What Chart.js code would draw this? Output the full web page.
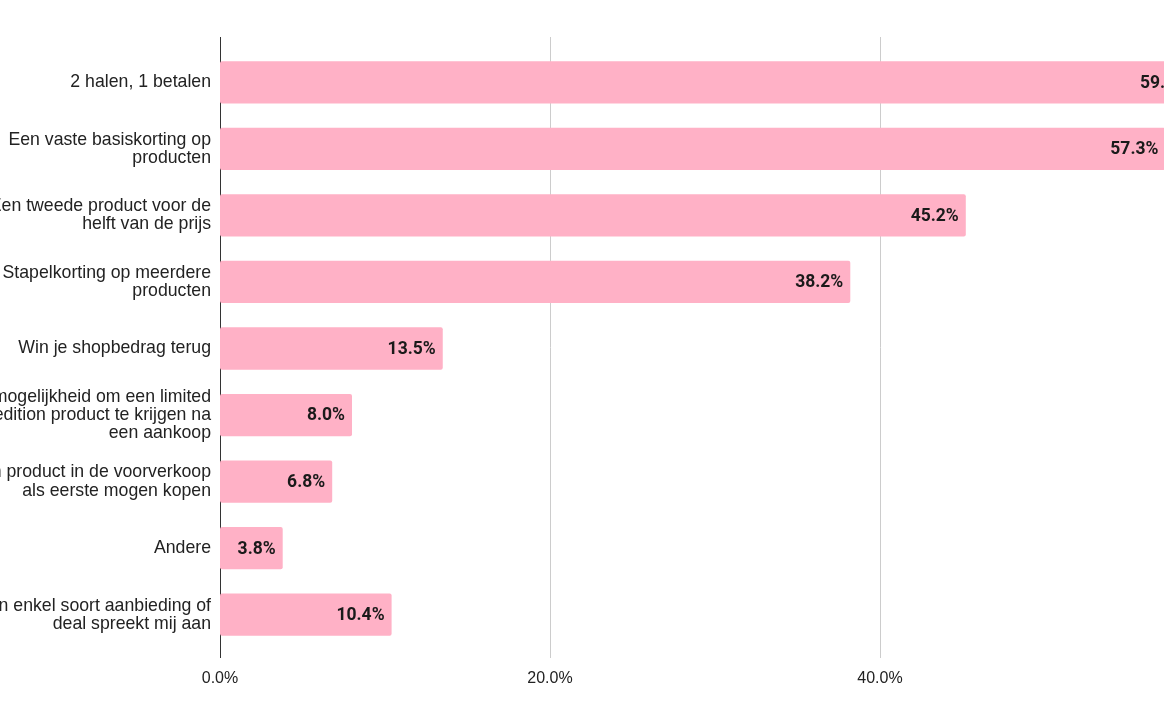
<!DOCTYPE html>
<html>
<head>
<meta charset="utf-8">
<script src="https://cdn.jsdelivr.net/npm/chart.js@4/dist/chart.umd.min.js"></script>
<style>
  html, body { margin: 0; padding: 0; background: #fff; overflow: hidden; width: 1164px; height: 723px; }
  #wrap { position: absolute; left: -60px; top: 0; width: 1324px; height: 723px; }
</style>
</head>
<body>
<div id="wrap"><canvas id="c" width="1324" height="723"></canvas></div>
<script>
const categories = [
  ["2 halen, 1 betalen"],
  ["Een vaste basiskorting op", "producten"],
  ["Een tweede product voor de", "helft van de prijs"],
  ["Stapelkorting op meerdere", "producten"],
  ["Win je shopbedrag terug"],
  ["De mogelijkheid om een limited", "edition product te krijgen na", "een aankoop"],
  ["Een product in de voorverkoop", "als eerste mogen kopen"],
  ["Andere"],
  ["Geen enkel soort aanbieding of", "deal spreekt mij aan"]
];
const values = [59.1, 57.3, 45.2, 38.2, 13.5, 8.0, 6.8, 3.8, 10.4];
const tickValues = [0, 20, 40, 60];

const gridPlugin = {
  id: 'extGrid',
  beforeDatasetsDraw(chart) {
    const xs = chart.scales.x, area = chart.chartArea, ctx = chart.ctx;
    ctx.save();
    xs.ticks.forEach(t => {
      const px = Math.round(xs.getPixelForValue(t.value)) + 0.5;
      ctx.beginPath();
      ctx.strokeStyle = t.value === 0 ? '#333333' : '#cccccc';
      ctx.lineWidth = 1;
      ctx.moveTo(px, area.top - 12);
      ctx.lineTo(px, area.bottom + 10);
      ctx.stroke();
    });
    ctx.restore();
  }
};

const labelPlugin = {
  id: 'barLabels',
  afterDatasetsDraw(chart) {
    const ctx = chart.ctx;
    const meta = chart.getDatasetMeta(0);
    ctx.save();
    ctx.font = 'bold 17.5px Roboto, "Liberation Sans", sans-serif';
    ctx.fillStyle = '#1a1a1a';
    ctx.textAlign = 'right';
    ctx.textBaseline = 'middle';
    meta.data.forEach((bar, i) => {
      ctx.fillText(values[i].toFixed(1) + '%', bar.x - 7, bar.y + 1);
    });
    ctx.restore();
  }
};

new Chart(document.getElementById('c'), {
  type: 'bar',
  data: {
    labels: categories,
    datasets: [{
      data: values,
      backgroundColor: '#ffb1c6',
      borderRadius: 2,
      borderSkipped: false,
      barPercentage: 0.635,
      categoryPercentage: 1
    }]
  },
  options: {
    indexAxis: 'y',
    responsive: false,
    animation: false,
    devicePixelRatio: 1,
    layout: { padding: { top: 49, right: 54, bottom: 0, left: 0 } },
    plugins: { legend: { display: false }, tooltip: { enabled: false } },
    scales: {
      x: {
        min: 0, max: 60,
        afterBuildTicks(scale) { scale.ticks = tickValues.map(v => ({ value: v })); },
        afterFit(scale) { scale.height = 75; },
        grid: { display: false, drawTicks: false },
        border: { display: false },
        ticks: {
          padding: 21,
          color: '#222222',
          font: { family: '"Liberation Sans", Arial, sans-serif', size: 16 },
          callback: v => Number(v).toFixed(1) + '%'
        }
      },
      y: {
        afterFit(scale) { scale.width = 280; },
        grid: { display: false, drawTicks: false },
        border: { display: false },
        ticks: {
          padding: 9,
          color: '#222222',
          font: { family: '"Liberation Sans", Arial, sans-serif', size: 17.7, lineHeight: 1.02 }
        }
      }
    }
  },
  plugins: [gridPlugin, labelPlugin]
});
</script>
</body>
</html>
